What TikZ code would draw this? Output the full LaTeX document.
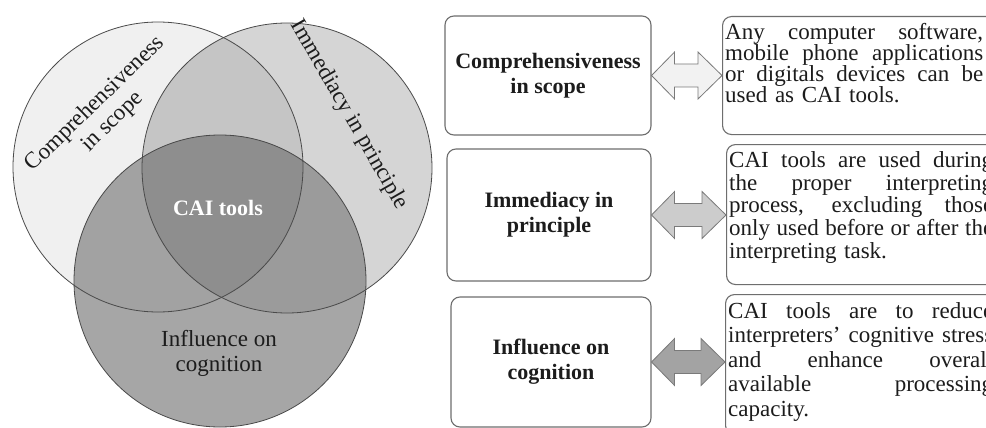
\documentclass[tikz,border=0pt]{standalone}
\usepackage{fontspec}
\setmainfont{Liberation Serif}
\usetikzlibrary{calc}
\definecolor{cL}{HTML}{F0F0F0}
\definecolor{cR}{HTML}{D5D5D5}
\definecolor{cLR}{HTML}{C5C5C5}
\definecolor{cB}{HTML}{A6A6A6}
\definecolor{cLB}{HTML}{A2A2A2}
\definecolor{cRB}{HTML}{9B9B9B}
\definecolor{cC}{HTML}{8E8E8E}
\definecolor{circline}{HTML}{4A4A4A}
\definecolor{boxgray}{HTML}{6E6E6E}
\definecolor{arrgray}{HTML}{7A7A7A}
\definecolor{aone}{HTML}{F2F2F2}
\definecolor{atwo}{HTML}{CCCCCC}
\definecolor{athree}{HTML}{A3A3A3}
\definecolor{txt}{HTML}{1C1C1C}
\tikzset{
  circ/.style={draw=circline, line width=0.8pt},
  lbox/.style={draw=boxgray, rounded corners=9pt, line width=1.1pt, align=center, inner sep=0pt, text=txt,
    font=\fontsize{22}{25}\selectfont\bfseries},
  rbox/.style={draw=boxgray, rounded corners=9pt, line width=1.1pt, anchor=north west, inner sep=0pt},
  rtext/.style={anchor=base west, inner sep=0pt, align=left, text=txt},
  vtext/.style={align=center, inner sep=0pt, text=txt, font=\fontsize{23}{25}\selectfont},
  arrowline/.style={draw=arrgray, line width=0.8pt, line join=miter}
}
\newcommand\dblarrow[3]{%
  \draw[arrowline, fill=#3] let \p1=(#1), \p2=(#2) in
   (\x1,\y1) -- (\x1+23pt,\y1+23.5pt) -- (\x1+23pt,\y1+11.5pt) -- (\x2-24pt,\y1+11.5pt)
   -- (\x2-24pt,\y1+23.5pt) -- (\x2,\y1) -- (\x2-24pt,\y1-23.5pt) -- (\x2-24pt,\y1-11.5pt)
   -- (\x1+23pt,\y1-11.5pt) -- (\x1+23pt,\y1-23.5pt) -- cycle;}
\newcommand\jline[2]{\leavevmode\hbox to #1{\spaceskip=0pt plus 1fil\relax #2}}
\begin{document}
\begin{tikzpicture}[x=1pt,y=-1pt]
\useasboundingbox (0,0) rectangle (986,428);
\clip (0,0) rectangle (986,428);
\fill[white] (0,0) rectangle (986,428);
\def\CL{(158,167) circle[radius=145pt]}
\def\CR{(287,168) circle[radius=145pt]}
\def\CB{(220,281) circle[radius=146pt]}
% Venn fills
\fill[cL] \CL;
\fill[cR] \CR;
\begin{scope}\clip \CL; \fill[cLR] \CR;\end{scope}
\fill[cB] \CB;
\begin{scope}
  \clip \CB;
  \fill[cLB] \CL;
  \fill[cRB] \CR;
  \clip \CL;
  \fill[cC] \CR;
\end{scope}
\draw[circ] \CL;
\draw[circ] \CR;
\draw[circ] \CB;
% Venn labels
\node[vtext, rotate=44] (lc) at (104,113) {Comprehensiveness\\in scope};
\node[vtext, rotate=-60] (lr) at (349,115) {Immediacy in principle};
\node[inner sep=0pt, text=white, font=\fontsize{22}{24}\selectfont\bfseries] (lcai) at (218,208) {CAI tools};
\node[vtext] (lb) at (219,353) {Influence on\\cognition};
% left boxes
\node[lbox, minimum width=206pt, minimum height=119pt] (b1) at (548,75.5) {Comprehensiveness\\in scope};
\node[lbox, minimum width=204pt, minimum height=132pt] (b2) at (549,215) {Immediacy in\\principle};
\node[lbox, minimum width=200pt, minimum height=130pt] (b3) at (551,362) {Influence on\\cognition};
% right boxes
\node[rbox, minimum width=300pt, minimum height=118pt] (r1) at (722,16) {};
\node[rbox, minimum width=300pt, minimum height=140pt] (r2) at (726,144) {};
\node[rbox, minimum width=300pt, minimum height=140pt] (r3) at (725,294) {};
% right texts
\node[rtext, text width=258pt, font=\fontsize{23}{21}\selectfont] (t1) at (725,40)
 {\jline{258pt}{Any computer software,}\\
  \jline{258pt}{mobile phone applications}\\
  \jline{258pt}{or digitals devices can be}\\
  used as CAI tools.};
\node[rtext, text width=264pt, font=\fontsize{23}{23}\selectfont] (t2) at (729,167)
 {\jline{264pt}{CAI tools are used during}\\
  \jline{264pt}{the proper interpreting}\\
  \jline{264pt}{process, excluding those}\\
  \jline{264pt}{only used before or after the}\\
  interpreting task.};
\node[rtext, text width=265pt, font=\fontsize{23}{24.5}\selectfont] (t3) at (728,318)
 {\jline{265pt}{CAI tools are to reduce}\\
  \jline{265pt}{interpreters’ cognitive stress}\\
  \jline{265pt}{and enhance overall}\\
  \jline{265pt}{available processing}\\
  capacity.};
% double arrows
\dblarrow{b1.east}{r1.west}{aone}
\dblarrow{b2.east}{r2.west}{atwo}
\dblarrow{b3.east}{r3.west}{athree}
\end{tikzpicture}
\end{document}
